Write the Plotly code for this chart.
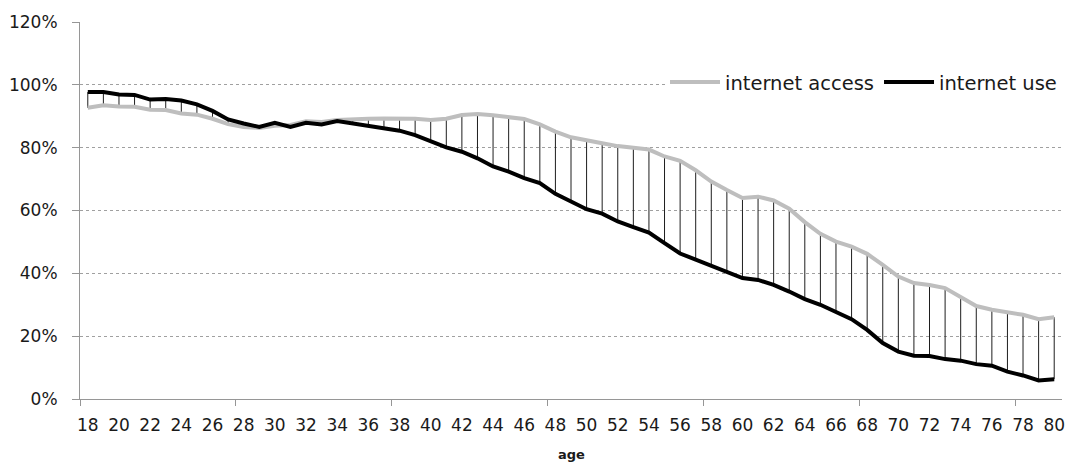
import plotly.graph_objects as go

ages = list(range(18, 81))
internet_access = [
    92.7, 93.5, 93.1, 93.0, 92.1, 92.0, 90.9, 90.5, 89.2, 87.5,
    86.6, 86.3, 87.0, 87.2, 88.4, 88.2, 88.8, 89.1, 89.2, 89.3,
    89.3, 89.2, 88.8, 89.2, 90.4, 90.7, 90.3, 89.8, 89.1, 87.4,
    85.1, 83.3, 82.2, 81.4, 80.5, 80.1, 79.4, 77.2, 75.8, 72.8,
    69.2, 66.5, 64.0, 64.4, 63.2, 60.6, 56.3, 52.6, 50.1, 48.5,
    46.2, 42.7, 39.0, 36.9, 36.3, 35.3, 32.6, 29.6, 28.4, 27.5,
    26.8, 25.4, 26.0,
]
internet_use = [
    97.7, 97.7, 96.9, 96.8, 95.3, 95.5, 95.0, 93.8, 91.7, 89.0,
    87.7, 86.6, 87.9, 86.6, 87.9, 87.4, 88.5, 87.7, 86.8, 86.0,
    85.4, 84.0, 81.9, 80.1, 78.7, 76.6, 74.0, 72.4, 70.3, 68.7,
    65.3, 62.9, 60.4, 59.0, 56.5, 54.7, 53.0, 49.6, 46.3, 44.4,
    42.5, 40.5, 38.5, 37.9, 36.3, 34.2, 31.8, 30.0, 27.8, 25.4,
    22.0, 17.8, 15.1, 13.8, 13.7, 12.7, 12.2, 11.1, 10.6, 8.7,
    7.5, 5.9, 6.3,
]
y_ticks = [0, 20, 40, 60, 80, 100, 120]
y_tick_labels = ["0%", "20%", "40%", "60%", "80%", "100%", "120%"]
x_ticks = list(range(18, 81, 2))
x_tick_labels = [str(a) for a in x_ticks]

FONT = "DejaVu Sans"

# high-low lines between the two series
hl_x, hl_y = [], []
for a, acc, use in zip(ages, internet_access, internet_use):
    hl_x += [a, a, None]
    hl_y += [acc, use, None]

fig = go.Figure()
fig.add_trace(go.Scatter(
    x=hl_x, y=hl_y, mode="lines",
    line=dict(color="rgb(30,30,30)", width=1),
    showlegend=False, hoverinfo="skip",
))
fig.add_trace(go.Scatter(
    x=ages, y=internet_access, mode="lines", name="internet access",
    line=dict(color="rgb(190,190,190)", width=4),
))
fig.add_trace(go.Scatter(
    x=ages, y=internet_use, mode="lines", name="internet use",
    line=dict(color="black", width=4),
))

fig.update_layout(
    width=1067, height=463,
    margin=dict(l=80, r=5, t=22, b=64),
    paper_bgcolor="white", plot_bgcolor="white",
    font=dict(family=FONT, size=17, color="#1a1a1a"),
    legend=dict(
        orientation="h", x=1.0, xanchor="right", y=0.84, yanchor="middle",
        bgcolor="white", font=dict(size=19.5, family=FONT, color="#1a1a1a"),
        itemwidth=50,
    ),
    xaxis=dict(
        range=[17.5, 80.5], automargin=False,
        tickmode="array", tickvals=x_ticks, ticktext=x_tick_labels,
        ticks="", showgrid=False, zeroline=False,
        showline=True, linecolor="rgb(150,150,150)", linewidth=1,
        ticklabelstandoff=11,
        minor=dict(tick0=17.5, dtick=10, ticks="outside", ticklen=6,
                   tickcolor="rgb(150,150,150)", showgrid=False),
    ),
    yaxis=dict(
        range=[0, 120], automargin=False,
        tickmode="array", tickvals=y_ticks, ticktext=y_tick_labels,
        ticks="outside", ticklen=7, tickcolor="rgb(150,150,150)",
        showgrid=True, gridcolor="rgb(160,160,160)", griddash="dot", gridwidth=1,
        zeroline=False,
        showline=True, linecolor="rgb(150,150,150)", linewidth=1,
        ticklabelstandoff=11,
    ),
    annotations=[dict(
        text="<b>age</b>", xref="paper", yref="paper", x=0.5, y=-0.147,
        xanchor="center", yanchor="middle", showarrow=False,
        font=dict(family=FONT, size=13, color="#1a1a1a"),
    )],
)

fig.write_html(
    "out.html",
    config={"displayModeBar": False},
    post_script="document.body.style.margin='0px';document.body.style.overflow='hidden';",
)
